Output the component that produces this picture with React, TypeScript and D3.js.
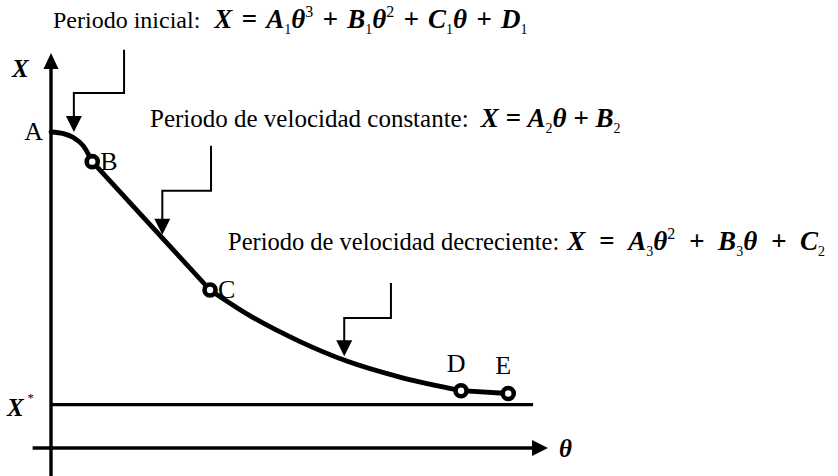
import React from "react";
import * as d3 from "d3";

// Drying curve: moisture content X versus time θ (arbitrary units)
const initialTheta = [0, 0.25, 0.45, 0.65, 0.83];
const initialX = [0.8, 0.796, 0.786, 0.765, 0.725];
const constantTheta = [0.83, 3.2];
const constantX = [0.725, 0.4];
const fallingTheta = [3.2, 4.0, 5.0, 5.95, 7.0, 8.25];
const fallingX = [0.4, 0.335, 0.27, 0.22, 0.18, 0.145];
const finalTheta = [8.25, 9.2];
const finalX = [0.145, 0.138];

// Equilibrium moisture X*
const equilibriumX = 0.11;
const equilibriumEnd = 9.7;

// Labelled points
const pointNames = ["A", "B", "C", "D", "E"];
const pointTheta = [0, 0.83, 3.2, 8.25, 9.2];
const pointX = [0.8, 0.725, 0.4, 0.145, 0.138];
const ringed = [false, true, true, true, true];

// Callout arrows: stem top -> elbow -> arrow tip on the curve
const calloutTipTheta = [0.46, 2.24, 5.9];
const calloutTipX = [0.8, 0.54, 0.232];
const calloutElbowX = [0.899, 0.651, 0.329];
const calloutStemTheta = [1.47, 3.22, 6.84];
const calloutTopX = [1.008, 0.765, 0.418];

// Period descriptions
const periodNames = [
  "Periodo inicial:",
  "Periodo de velocidad constante:",
  "Periodo de velocidad decreciente:",
];
type Kind = "m" | "op" | "sub" | "sup";
type Part = [string, Kind];
const periodFormulas: Part[][] = [
  [["X", "m"], ["=", "op"], ["A", "m"], ["1", "sub"], ["θ", "m"], ["3", "sup"], ["+", "op"], ["B", "m"], ["1", "sub"], ["θ", "m"], ["2", "sup"], ["+", "op"], ["C", "m"], ["1", "sub"], ["θ", "m"], ["+", "op"], ["D", "m"], ["1", "sub"]],
  [["X", "m"], ["=", "op"], ["A", "m"], ["2", "sub"], ["θ", "m"], ["+", "op"], ["B", "m"], ["2", "sub"]],
  [["X", "m"], ["=", "op"], ["A", "m"], ["3", "sub"], ["θ", "m"], ["2", "sup"], ["+", "op"], ["B", "m"], ["3", "sub"], ["θ", "m"], ["+", "op"], ["C", "m"], ["2", "sub"]],
];
const periodLeft = [53, 150, 228];
const periodBaseline = [28, 127, 250];
const periodFontSize = [24, 25, 24.5];
const formulaLead = [14, 12, 8];
const operatorPad = [2.5, 0, 7];

const W = 838;
const H = 476;
const FONT = "'Liberation Serif', 'Times New Roman', Times, serif";

const x = d3.scaleLinear().domain([0, 10]).range([51, 548]);
const y = d3.scaleLinear().domain([0, 1]).range([448, 53]);

const line = d3
  .line<[number, number]>()
  .x((d) => x(d[0]))
  .y((d) => y(d[1]));

const zip = (a: number[], b: number[]) => a.map((v, i) => [v, b[i]] as [number, number]);

function arrowHead(tx: number, ty: number, dir: "up" | "down" | "right", len = 15, half = 7.5) {
  if (dir === "up") return `M${tx},${ty} L${tx - half},${ty + len} L${tx + half},${ty + len} Z`;
  if (dir === "down") return `M${tx},${ty} L${tx - half},${ty - len} L${tx + half},${ty - len} Z`;
  return `M${tx},${ty} L${tx - len},${ty - half} L${tx - len},${ty + half} Z`;
}

function Formula({ parts, lead, pad }: { parts: Part[]; lead: number; pad: number }) {
  let shift = 0;
  let prevOp = false;
  return (
    <>
      {parts.map(([t, kind], i) => {
        const target = kind === "sub" ? 6 : kind === "sup" ? -11 : 0;
        const dy = target - shift;
        shift = target;
        const small = kind === "sub" || kind === "sup";
        let dx = i === 0 ? lead : 0;
        if (kind === "op" || prevOp) dx += pad;
        prevOp = kind === "op";
        const text = kind === "op" ? `\u00A0${t}\u00A0` : t;
        return (
          <tspan
            key={i}
            dx={dx}
            dy={dy}
            style={{
              fontStyle: small ? "normal" : "italic",
              fontWeight: small ? "normal" : "bold",
              fontSize: small ? (kind === "sub" ? 14 : 16) : 27,
            }}
          >
            {text}
          </tspan>
        );
      })}
    </>
  );
}

export default function App() {
  const segments = [
    zip(initialTheta, initialX),
    zip(constantTheta, constantX),
    zip(fallingTheta, fallingX),
    zip(finalTheta, finalX),
  ];
  const curves = [d3.curveMonotoneX, d3.curveLinear, d3.curveMonotoneX, d3.curveLinear];

  const yAxisX = x(0);
  const thetaAxisY = y(0);
  const serif = { fontFamily: FONT };

  return (
    <svg
      width={W}
      height={H}
      viewBox={`0 0 ${W} ${H}`}
      style={{ position: "fixed", left: 0, top: 0, display: "block", background: "#fff", fontFamily: FONT }}
    >
      <rect width={W} height={H} fill="#fff" />

      {/* axes */}
      <line x1={yAxisX} x2={yAxisX} y1={y(-0.075)} y2={y(1) + 14} stroke="#000" strokeWidth={3.4} />
      <path d={arrowHead(yAxisX, y(1), "up", 16, 7.5)} fill="#000" />
      <line x1={x(-0.37)} x2={x(10) - 14} y1={thetaAxisY} y2={thetaAxisY} stroke="#000" strokeWidth={3.4} />
      <path d={arrowHead(x(10), thetaAxisY, "right", 16, 8)} fill="#000" />

      {/* equilibrium moisture line */}
      <line
        x1={yAxisX}
        x2={x(equilibriumEnd)}
        y1={y(equilibriumX)}
        y2={y(equilibriumX)}
        stroke="#000"
        strokeWidth={3.2}
      />

      {/* axis labels */}
      <text x={12} y={77} style={{ ...serif, fontSize: 25, fontWeight: "bold", fontStyle: "italic" }}>X</text>
      <text x={7} y={y(equilibriumX) + 11} style={{ ...serif, fontSize: 25, fontWeight: "bold", fontStyle: "italic" }}>
        X<tspan dy={-14} dx={3} style={{ fontSize: 13, fontWeight: "normal" }}>*</tspan>
      </text>
      <text x={x(10) + 11} y={thetaAxisY + 9} style={{ ...serif, fontSize: 25, fontWeight: "bold", fontStyle: "italic" }}>θ</text>

      {/* drying curve */}
      {segments.map((seg, i) => (
        <path
          key={i}
          d={line.curve(curves[i])(seg) || ""}
          fill="none"
          stroke="#000"
          strokeWidth={4.8}
          strokeLinecap="round"
          strokeLinejoin="round"
        />
      ))}

      {/* labelled points */}
      {pointNames.map((name, i) => {
        const px = x(pointTheta[i]);
        const py = y(pointX[i]);
        let lx = px + 8;
        let ly = py + 8;
        let anchor: "start" | "middle" | "end" = "start";
        if (name === "A") {
          lx = px - 8;
          ly = py + 8;
          anchor = "end";
        } else if (name === "D" || name === "E") {
          lx = px - 5;
          ly = py - 19;
          anchor = "middle";
        }
        return (
          <g key={name}>
            {ringed[i] && <circle cx={px} cy={py} r={5.5} fill="#fff" stroke="#000" strokeWidth={4.6} />}
            <text x={lx} y={ly} textAnchor={anchor} style={{ ...serif, fontSize: 26 }}>
              {name}
            </text>
          </g>
        );
      })}

      {/* callout arrows */}
      {calloutTipTheta.map((t, i) => {
        const sx = x(calloutStemTheta[i]);
        const tx = x(t);
        const top = y(calloutTopX[i]);
        const elbow = y(calloutElbowX[i]);
        const tip = y(calloutTipX[i]);
        return (
          <g key={i}>
            <path
              d={`M${sx},${top} L${sx},${elbow} L${tx},${elbow} L${tx},${tip - 14}`}
              fill="none"
              stroke="#000"
              strokeWidth={2}
            />
            <path d={arrowHead(tx, tip, "down", 16, 8)} fill="#000" />
          </g>
        );
      })}

      {/* period descriptions and equations */}
      {periodNames.map((name, i) => (
        <text key={name} x={periodLeft[i]} y={periodBaseline[i]} style={{ ...serif, fontSize: periodFontSize[i] }}>
          <tspan>{name}</tspan>
          <Formula parts={periodFormulas[i]} lead={formulaLead[i]} pad={operatorPad[i]} />
        </text>
      ))}
    </svg>
  );
}
